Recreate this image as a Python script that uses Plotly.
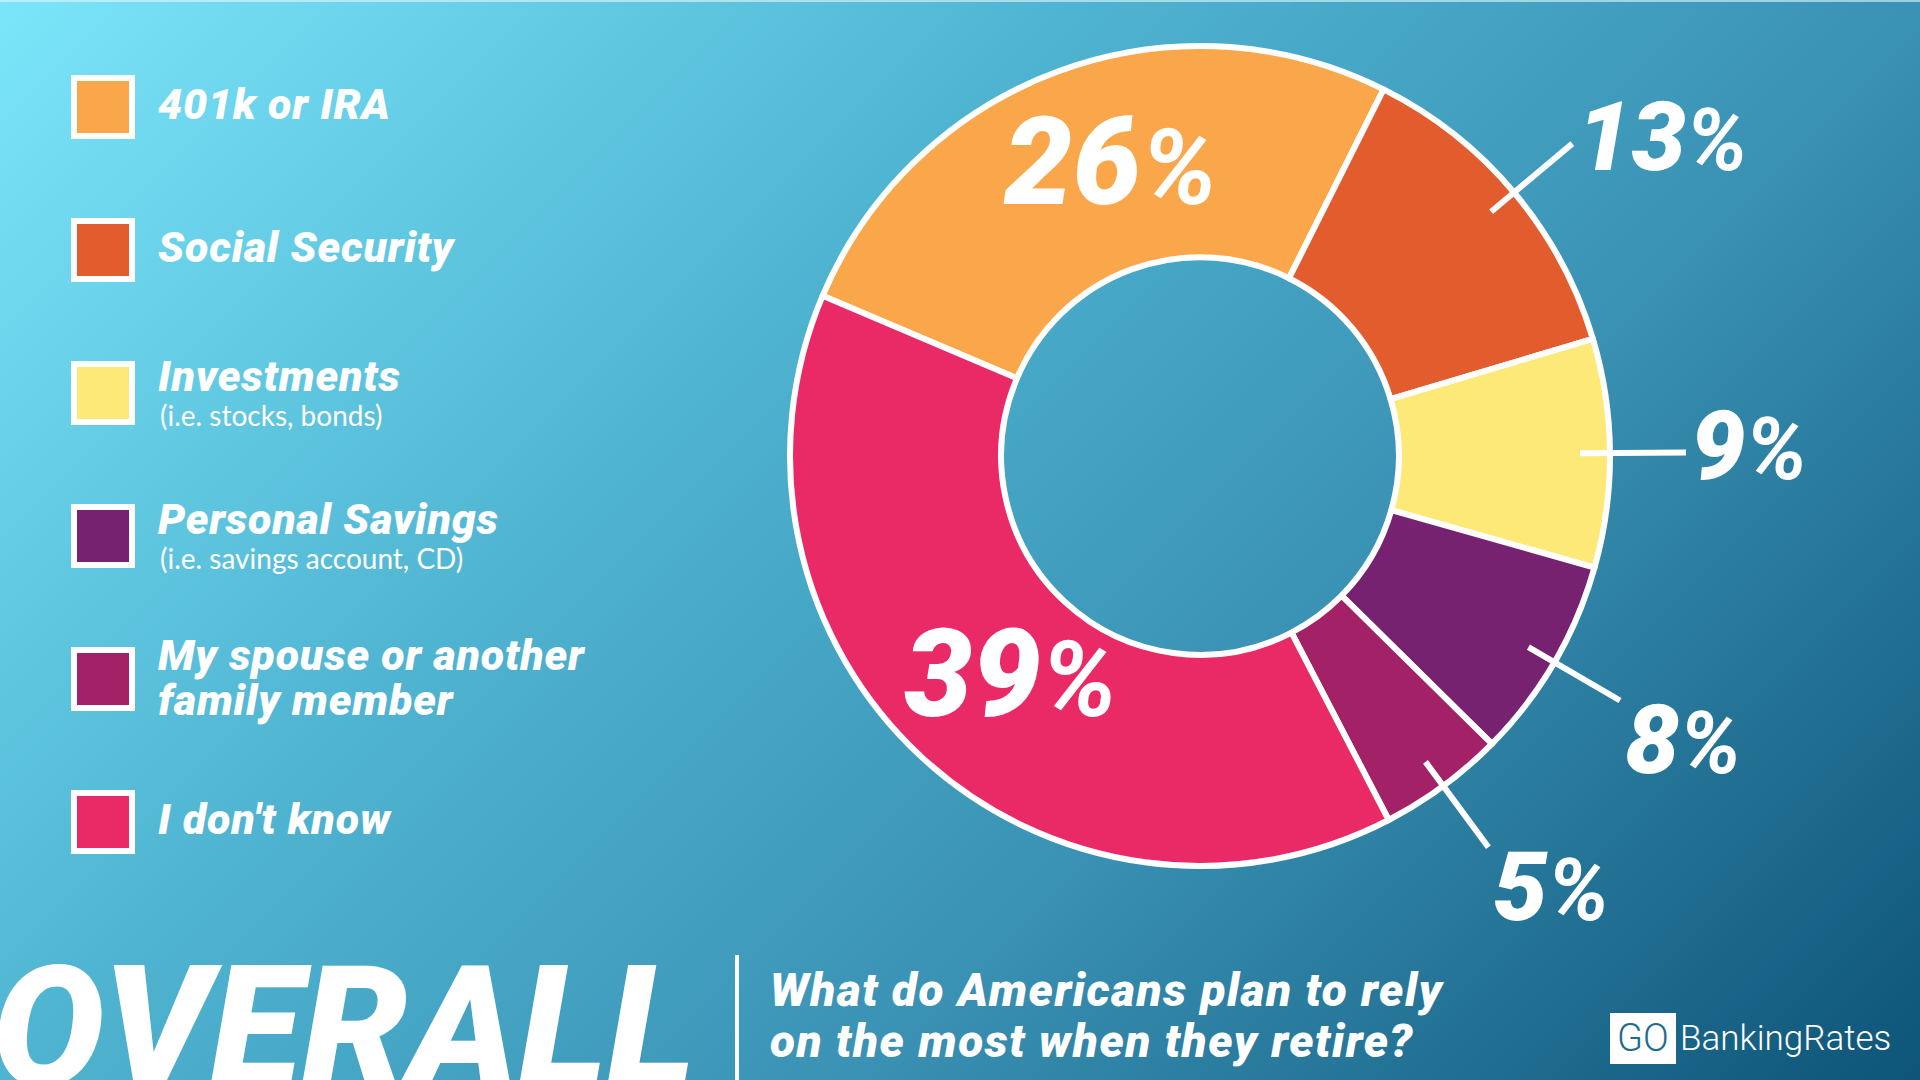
import numpy as np
import plotly.graph_objects as go

# ---------------- data ----------------
categories = ["401k or IRA", "Social Security", "Investments", "Personal Savings",
              "My spouse or another family member", "I don't know"]
legend_lines = [["401k or IRA"], ["Social Security"], ["Investments"], ["Personal Savings"],
                ["My spouse or another", "family member"], ["I don't know"]]
legend_subtitles = ["", "", "(i.e. stocks, bonds)", "(i.e. savings account, CD)", "", ""]
values = [26, 13, 9, 8, 5, 39]
colors = ["#FAA64A", "#E35C2D", "#FDE978", "#772270", "#A32167", "#E92A67"]
big_word = "OVERALL"
question_lines = ["What do Americans plan to rely", "on the most when they retire?"]

# ---------------- layout constants ----------------
W, H = 1920, 1080
CX, CY = 1200, 456
R_OUT = 410
HOLE = 0.485
ROTATION = -67
FONT = "Roboto"
SUBFONT = "Lato"


def spaced(t, px):
    return f"<span style='letter-spacing:{px}px'>{t}</span>"


def pct_text(v, pct_size):
    return f"{v}<span style='font-size:{pct_size}px;font-weight:700'>%</span>"


fig = go.Figure()

# background gradient (diagonal)
xs = np.linspace(0, W, 9)
ys = np.linspace(0, H, 9)
X, Y = np.meshgrid(xs, ys)
Z = (X + Y) / (W + H)
fig.add_trace(go.Heatmap(
    x=xs, y=ys, z=Z, zsmooth="best", showscale=False, hoverinfo="skip",
    colorscale=[[0, "#7BE5FA"], [0.36, "#4FB4D1"], [0.64, "#3A92B4"], [1, "#0D5478"]],
    zmin=0, zmax=1,
))

# donut
fig.add_trace(go.Pie(
    labels=categories, values=values, sort=False, direction="clockwise",
    rotation=ROTATION, hole=HOLE, textinfo="none", hoverinfo="label+percent",
    showlegend=False,
    marker=dict(colors=colors, line=dict(color="white", width=6)),
    domain=dict(x=[(CX - R_OUT) / W, (CX + R_OUT) / W],
                y=[1 - (CY + R_OUT) / H, 1 - (CY - R_OUT) / H]),
))

shapes = []
annotations = []

# percentage labels derived from slice angles
total = float(sum(values))
cum = 0.0
for v in values:
    start = ROTATION + 360.0 * cum / total
    mid = np.radians(start + 180.0 * v / total)
    cum += v
    s, c = np.sin(mid), np.cos(mid)
    if v >= 20:
        r = 300
        annotations.append(dict(
            x=CX + r * s, y=CY - r * c, xref="x", yref="y", showarrow=False,
            xanchor="center", yanchor="middle", xshift=14, yshift=6 + 6 * c,
            text=pct_text(v, 106),
            font=dict(family=FONT, size=122, color="white", weight=900, style="italic"),
        ))
    else:
        r0, r1 = 380, 486
        x0, y0 = CX + r0 * s, CY - r0 * c
        x1, y1 = CX + r1 * s, CY - r1 * c
        shapes.append(dict(type="line", xref="x", yref="y", x0=x0, y0=y0, x1=x1, y1=y1,
                           line=dict(color="white", width=6)))
        annotations.append(dict(
            x=x1 + 3, y=y1 - 7 + 47 * min(1.0, 2 * max(0.0, -c)), xref="x", yref="y",
            showarrow=False, xanchor="left", yanchor="middle",
            text=pct_text(v, 86),
            font=dict(family=FONT, size=97, color="white", weight=900, style="italic"),
        ))

# custom legend
SQ_X0, SQ_SIZE, SQ_Y0, SQ_STEP = 71, 64, 75, 143
for i, (lines, sub, col) in enumerate(zip(legend_lines, legend_subtitles, colors)):
    yc = SQ_Y0 + SQ_SIZE / 2 + i * SQ_STEP
    shapes.append(dict(type="rect", xref="x", yref="y",
                       x0=SQ_X0 + 3, x1=SQ_X0 + SQ_SIZE - 3,
                       y0=yc - SQ_SIZE / 2 + 3, y1=yc + SQ_SIZE / 2 - 3,
                       fillcolor=col, line=dict(color="white", width=6)))
    if sub:
        ys_title = [yc - 17.5]
        annotations.append(dict(
            x=158, y=yc + 21.5, xref="x", yref="y", showarrow=False,
            xanchor="left", yanchor="middle", text=sub,
            font=dict(family=SUBFONT, size=28, color="white", weight=400)))
    elif len(lines) == 2:
        ys_title = [yc - 24.5, yc + 21]
    else:
        ys_title = [yc - 3]
    for line, yy in zip(lines, ys_title):
        annotations.append(dict(
            x=156, y=yy, xref="x", yref="y", showarrow=False,
            xanchor="left", yanchor="middle", text=spaced(line, 0.8),
            font=dict(family=FONT, size=43, color="white", weight=900, style="italic")))

# bottom: big word, divider, question
annotations.append(dict(
    x=0, y=1027, xref="x", yref="y", showarrow=False, xanchor="left", yanchor="middle",
    xshift=-10, text=big_word,
    font=dict(family=FONT, size=168, color="white", weight=900, style="italic")))
shapes.append(dict(type="line", xref="x", yref="y", x0=737, x1=737, y0=955, y1=1080,
                   line=dict(color="white", width=4)))
for line, yy in zip(question_lines, [990, 1041]):
    annotations.append(dict(
        x=768, y=yy, xref="x", yref="y", showarrow=False, xanchor="left", yanchor="middle",
        text=spaced(line, 1.5),
        font=dict(family=FONT, size=46, color="white", weight=900, style="italic")))

# logo
shapes.append(dict(type="rect", xref="x", yref="y", x0=1610, x1=1676, y0=1013, y1=1064,
                   fillcolor="white", line=dict(width=0)))
annotations.append(dict(x=1643, y=1038, xref="x", yref="y", showarrow=False,
                        xanchor="center", yanchor="middle", text="GO",
                        font=dict(family="Roboto", size=38, color="#1E6C8E", weight=300)))
annotations.append(dict(x=1678, y=1038, xref="x", yref="y", showarrow=False,
                        xanchor="left", yanchor="middle", text="BankingRates",
                        font=dict(family="Roboto", size=35, color="white", weight=300)))

# thin light top edge
shapes.append(dict(type="line", xref="x", yref="y", x0=0, x1=W, y0=1, y1=1,
                   line=dict(color="rgba(230,245,250,0.6)", width=2)))

fig.update_layout(
    width=W, height=H, margin=dict(l=0, r=0, t=0, b=0),
    paper_bgcolor="#3A92B4", plot_bgcolor="rgba(0,0,0,0)",
    xaxis=dict(range=[0, W], visible=False, fixedrange=True),
    yaxis=dict(range=[H, 0], visible=False, fixedrange=True),
    shapes=shapes, annotations=annotations, showlegend=False,
)

fig.write_html("out.html", config={"displayModeBar": False},
               post_script="document.body.style.margin='0';document.body.style.overflow='hidden';")
